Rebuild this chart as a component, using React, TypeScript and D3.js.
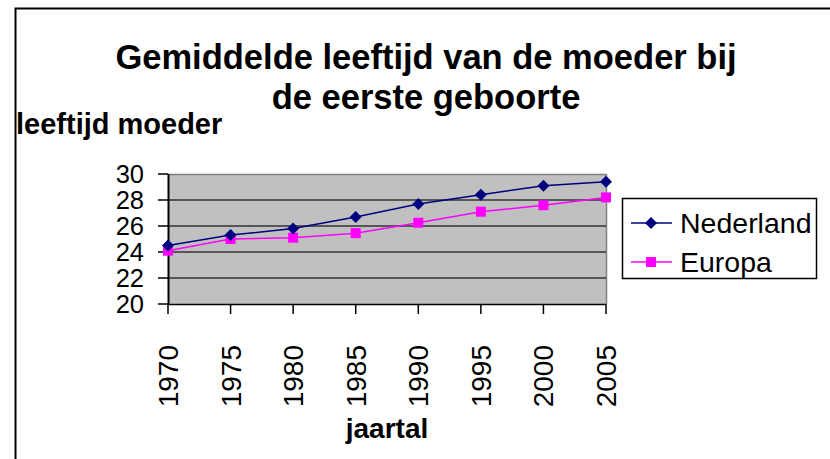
import React from "react";
import * as d3 from "d3";

const years = ["1970", "1975", "1980", "1985", "1990", "1995", "2000", "2005"];
const nederland = [24.5, 25.3, 25.8, 26.7, 27.7, 28.4, 29.1, 29.4];
const europa = [24.1, 25.0, 25.1, 25.45, 26.25, 27.1, 27.6, 28.2];
const yTicks = [20, 22, 24, 26, 28, 30];
const seriesNames = ["Nederland", "Europa"];

const W = 830;
const H = 459;
const FONT = "Liberation Sans, Arial, sans-serif";

export default function App() {
  const x = d3.scalePoint<string>().domain(years).range([168, 606]);
  const y = d3.scaleLinear().domain([20, 30]).range([304, 174]);
  const line = d3
    .line<number>()
    .x((_, i) => x(years[i]) as number)
    .y((d) => y(d));

  const diamond = (cx: number, cy: number, r: number) =>
    `M${cx},${cy - r}L${cx + r},${cy}L${cx},${cy + r}L${cx - r},${cy}Z`;

  return (
    <svg
      width={W}
      height={H}
      style={{ position: "absolute", left: 0, top: 0 }}
      fontFamily={FONT}
    >
      <rect x={0} y={0} width={W} height={H} fill="#fff" />
      {/* outer border */}
      <path d={`M15.5,${H}V8.5H${W}`} fill="none" stroke="#000" strokeWidth={2} />

      {/* title */}
      <text x={426} y={69} textAnchor="middle" fontSize={34.5} fontWeight="bold">
        Gemiddelde leeftijd van de moeder bij
      </text>
      <text x={426} y={109} textAnchor="middle" fontSize={34.5} fontWeight="bold">
        de eerste geboorte
      </text>
      <text x={16} y={134} fontSize={29} fontWeight="bold">
        leeftijd moeder
      </text>

      {/* plot area */}
      <rect x={168} y={174} width={438} height={130} fill="#C0C0C0" />
      <path d={`M168,174.5H606.5V304`} fill="none" stroke="#808080" strokeWidth={1.5} />
      {yTicks.slice(1, -1).map((t) => (
        <line key={t} x1={168} x2={606} y1={y(t)} y2={y(t)} stroke="#333" strokeWidth={1.5} />
      ))}
      {/* y axis */}
      <line x1={168.5} x2={168.5} y1={174} y2={305} stroke="#000" strokeWidth={2} />
      {yTicks.map((t) => (
        <g key={t}>
          <line x1={158} x2={168} y1={y(t)} y2={y(t)} stroke="#000" strokeWidth={1.5} />
          <text x={144} y={y(t)} dy="0.36em" textAnchor="end" fontSize={25.5}>
            {t}
          </text>
        </g>
      ))}
      {/* x axis */}
      <line x1={168} x2={606} y1={304.5} y2={304.5} stroke="#000" strokeWidth={1.5} />
      {years.map((yr) => {
        const px = x(yr) as number;
        return (
          <g key={yr}>
            <line x1={px} x2={px} y1={304} y2={314} stroke="#000" strokeWidth={1.5} />
            <text
              transform={`translate(${px + 10},345) rotate(-90)`}
              textAnchor="end"
              fontSize={28}
            >
              {yr}
            </text>
          </g>
        );
      })}
      <text x={387} y={438} textAnchor="middle" fontSize={28} fontWeight="bold">
        jaartal
      </text>

      {/* series */}
      <path d={line(europa) || ""} fill="none" stroke="#FF00FF" strokeWidth={1.5} />
      <path d={line(nederland) || ""} fill="none" stroke="#000080" strokeWidth={1.5} />
      {europa.map((v, i) => (
        <rect
          key={"e" + i}
          x={(x(years[i]) as number) - 5}
          y={y(v) - 5}
          width={10}
          height={10}
          fill="#FF00FF"
        />
      ))}
      {nederland.map((v, i) => (
        <path key={"n" + i} d={diamond(x(years[i]) as number, y(v), 6)} fill="#000080" />
      ))}

      {/* legend */}
      <rect x={622.5} y={198.5} width={194} height={80} fill="#fff" stroke="#000" strokeWidth={1.5} />
      <line x1={631} x2={672} y1={223} y2={223} stroke="#000080" strokeWidth={1.5} />
      <path d={diamond(651, 223, 6)} fill="#000080" />
      <text x={680} y={223} dy="0.36em" fontSize={28.5}>
        {seriesNames[0]}
      </text>
      <line x1={631} x2={672} y1={262} y2={262} stroke="#FF00FF" strokeWidth={1.5} />
      <rect x={646} y={257} width={10} height={10} fill="#FF00FF" />
      <text x={680} y={262} dy="0.36em" fontSize={28.5}>
        {seriesNames[1]}
      </text>
    </svg>
  );
}
